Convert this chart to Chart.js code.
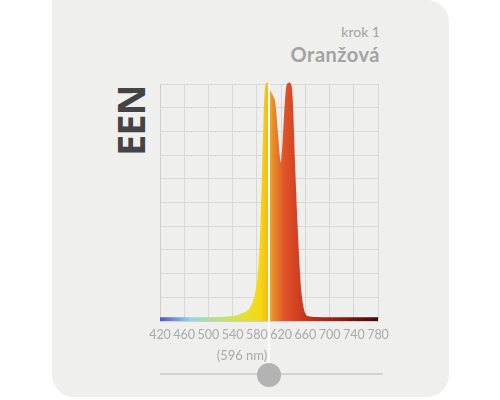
<!DOCTYPE html>
<html><head><meta charset="utf-8">
<script src="https://cdn.jsdelivr.net/npm/chart.js@4"></script>
<style>
html,body{margin:0;padding:0;background:#fff;width:500px;height:400px;overflow:hidden;font-family:Lato,sans-serif}
#card{position:absolute;left:52px;top:0;width:397px;height:397px;background:#efefee;border-radius:0 22px 22px 22px}
#c{position:absolute;left:0;top:0}
.t{position:absolute;right:120px;color:#a3a3a3;text-align:right}
#een{position:absolute;left:100px;top:100px;transform:rotate(-90deg);transform-origin:center;font:bold 38px "Open Sans",sans-serif;color:#444;width:60px;text-align:center;letter-spacing:-1px}
</style></head><body>
<div id="card"></div>
<div class="t" style="top:23px;font-size:14px">krok 1</div>
<div class="t" style="top:42px;font-size:20px;font-weight:bold;letter-spacing:0.5px">Oranžová</div>
<div id="een">EEN</div>
<canvas id="c" width="500" height="400"></canvas>
<script>
const wavelengths=[420,460,500,540,560,570,578,584,588,591,594,597,600,604,608,612,616,620,624,628,631,634,637,640,643,646,650,653,656,660,670,700,740,780];
const intensity=[0.01,0.01,0.01,0.015,0.03,0.05,0.1,0.2,0.38,0.64,0.9,1.0,0.97,0.95,0.92,0.8,0.68,0.65,0.72,0.9,0.99,1.0,0.92,0.7,0.5,0.33,0.15,0.08,0.04,0.02,0.012,0.01,0.01,0.01];
const xTicks=[420,460,500,540,580,620,660,700,740,780];
const marker=600, markerLabel='(596 nm)';
const stops=[[420,'#5b4fd0'],[470,'#8fd6e6'],[510,'#b5e08a'],[555,'#dfe23a'],[585,'#f7d712'],[600,'#f2b81e'],[606,'#e8902a'],[625,'#e0542a'],[660,'#c9341e'],[720,'#8c1c12'],[780,'#3c0a08']];
function grad(ctx){const c=ctx.chart,a=c.chartArea;if(!a)return '#f90';const x=c.scales.x;
 const g=c.ctx.createLinearGradient(a.left,0,a.right,0);
 stops.forEach(s=>g.addColorStop((x.getPixelForValue(s[0])-a.left)/(a.right-a.left),s[1]));return g;}
const overlay={id:'ov',afterDraw(c){const x=c.scales.x,ctx=c.ctx,a=c.chartArea;const px=x.getPixelForValue(marker);
 ctx.save();ctx.strokeStyle='#c8c8c8';ctx.lineWidth=1.5;ctx.beginPath();ctx.moveTo(160,374);ctx.lineTo(383,374);ctx.stroke();
 ctx.strokeStyle='#fff';ctx.lineWidth=2;ctx.beginPath();ctx.moveTo(px,a.top);ctx.lineTo(px,372);ctx.stroke();
 ctx.fillStyle='#b3b3b3';ctx.beginPath();ctx.arc(px,375,12,0,Math.PI*2);ctx.fill();
 ctx.fillStyle='#aaa';ctx.font='13px Lato';ctx.textAlign='center';ctx.textBaseline='middle';ctx.fillText(markerLabel,px-27,356);ctx.restore();}};
new Chart(document.getElementById('c'),{type:'line',
 data:{datasets:[{data:wavelengths.map((w,i)=>({x:w,y:intensity[i]})),fill:'origin',cubicInterpolationMode:'monotone',pointRadius:0,borderWidth:3,borderColor:grad,backgroundColor:grad,clip:6}]},
 options:{responsive:false,animation:false,events:[],layout:{padding:{left:160,right:122,top:84,bottom:57}},
  plugins:{legend:{display:false},tooltip:{enabled:false}},
  scales:{x:{type:'linear',min:420,max:780,afterBuildTicks:s=>{s.ticks=xTicks.map(v=>({value:v}))},afterFit:s=>{s.height=22},
    grid:{color:'#d8d8d8',drawTicks:false},border:{color:'#cfcfcf'},ticks:{color:'#aaa',font:{family:'Lato',size:12.5},padding:6,maxRotation:0,autoSkip:false}},
   y:{min:0,max:1,afterFit:s=>{s.width=0},ticks:{display:false,stepSize:0.1},grid:{color:'#d8d8d8',drawTicks:false},border:{color:'#cfcfcf'}}}},
 plugins:[overlay]});
</script></body></html>
